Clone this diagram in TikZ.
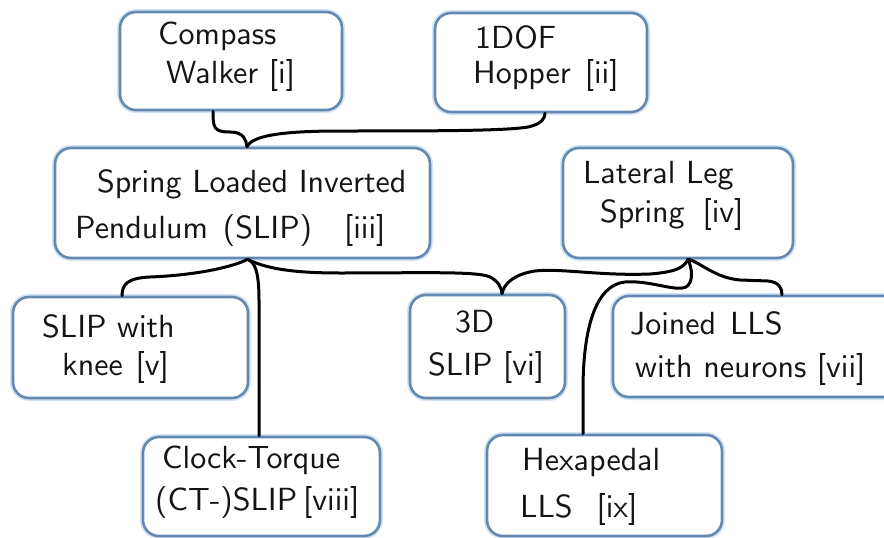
\documentclass[tikz,border=0pt]{standalone}
\font\boxfont=cmss10 at 32pt
\definecolor{boxblue}{RGB}{100,136,176}
\definecolor{glow}{RGB}{212,228,244}
\definecolor{ink}{RGB}{20,20,20}
\tikzset{
  box/.style={draw=boxblue, line width=2.6pt, rounded corners=16pt, fill=white,
    inner sep=0pt, preaction={draw=glow, line width=6pt}},
  txt/.style={anchor=base west, inner sep=0pt, text=ink, font=\boxfont},
  link/.style={line width=3pt, black, line cap=round, line join=round}
}
\begin{document}
\begin{tikzpicture}[x=1pt,y=-1pt]
\useasboundingbox[fill=white] (0,0) rectangle (884,538);
% boxes
\node[box, minimum width=222pt, minimum height=98pt]  (A) at (231,61) {};
\node[box, minimum width=212pt, minimum height=99pt]  (B) at (541,62.5) {};
\node[box, minimum width=375pt, minimum height=110pt] (C) at (242.5,203) {};
\node[box, minimum width=230pt, minimum height=110pt] (D) at (678,203) {};
\node[box, minimum width=235pt, minimum height=101pt] (E) at (130.5,347.5) {};
\node[box, minimum width=155pt, minimum height=103pt] (F) at (487.5,346.5) {};
\node[box, minimum width=287pt, minimum height=101pt] (G) at (756.5,346.5) {};
\node[box, minimum width=237pt, minimum height=99pt]  (H) at (261.5,486.5) {};
\node[box, minimum width=235pt, minimum height=101pt] (I) at (604.5,485.5) {};
% anchor points
\coordinate (tA) at ([xshift=-18pt]A.south);
\coordinate (tB) at ([xshift=4pt]B.south);
\coordinate (tC) at ([xshift=4.5pt]C.north);
\coordinate (bC) at ([xshift=5pt]C.south);
\coordinate (bD) at ([xshift=10pt]D.south);
\coordinate (tE) at ([xshift=-8.5pt]E.north);
\coordinate (tF) at ([xshift=14.5pt]F.north);
\coordinate (tG) at ([xshift=25.5pt]G.north);
\coordinate (tH) at ([xshift=-2.5pt]H.north);
\coordinate (tI) at ([xshift=-21.5pt]I.north);
% connectors
\draw[link] (tA) .. controls (213,128) and (214,132) .. (230,132) .. controls (244,132) and (246,140) .. (tC);
\draw[link] (tC) .. controls (252,136) and (280,131) .. (340,131) .. controls (430,131) and (505,131) .. (528,127) .. controls (542,124) and (545,118) .. (tB);
\draw[link] (bC) .. controls (235,266) and (200,275) .. (150,277) .. controls (128,278) and (122,284) .. (tE);
\draw[link] (bC) .. controls (255,262) and (259,272) .. (259,300) -- (tH);
\draw[link] (bC) .. controls (265,268) and (290,273) .. (340,273) .. controls (420,273) and (478,271) .. (490,277) .. controls (498,281) and (502,288) .. (tF);
\draw[link] (bD) .. controls (684,268) and (675,272) .. (650,274) .. controls (600,276) and (560,268) .. (535,271) .. controls (515,274) and (504,283) .. (tF);
\draw[link] (bD) .. controls (700,262) and (715,278) .. (740,280) -- (768,281) .. controls (779,282) and (782,288) .. (tG);
\draw[link] (tI) -- (583,390) .. controls (583,330) and (595,285) .. (625,282) .. controls (650,280) and (675,292) .. (686,287) .. controls (694,282) and (692,268) .. (bD);
% texts
\node[txt] (A1) at (158,45) {Compass};
\node[txt] (A2) at (166,83) {Walker [i]};
\node[txt] (B1) at (475,48) {1DOF};
\node[txt] (B2) at (473,83) {Hopper\hspace{14pt}[ii]};
\node[txt] (C1) at (97,192) {Spring Loaded Inverted};
\node[txt] (C2) at (75,238) {Pendulum\hspace{15pt}(SLIP)\hspace{32pt}[iii]};
\node[txt] (D1) at (583,183) {Lateral Leg};
\node[txt] (D2) at (600,222) {Spring\hspace{18pt}[iv]};
\node[txt] (E1) at (42,337) {SLIP with};
\node[txt] (E2) at (62,375) {knee\hspace{13pt}[v]};
\node[txt] (F1) at (455,332) {3D};
\node[txt] (F2) at (428,375) {SLIP [vi]};
\node[txt] (G1) at (630,334) {Joined\hspace{14pt}LLS};
\node[txt] (G2) at (635,377) {with neurons [vii]};
\node[txt] (H1) at (162,468) {Clock-Torque};
\node[txt] (H2) at (155,510) {(CT-)SLIP\hspace{6pt}[viii]};
\node[txt] (I1) at (522,470) {Hexapedal};
\node[txt] (I2) at (520,517) {LLS\hspace{24pt}[ix]};
\end{tikzpicture}
\end{document}
